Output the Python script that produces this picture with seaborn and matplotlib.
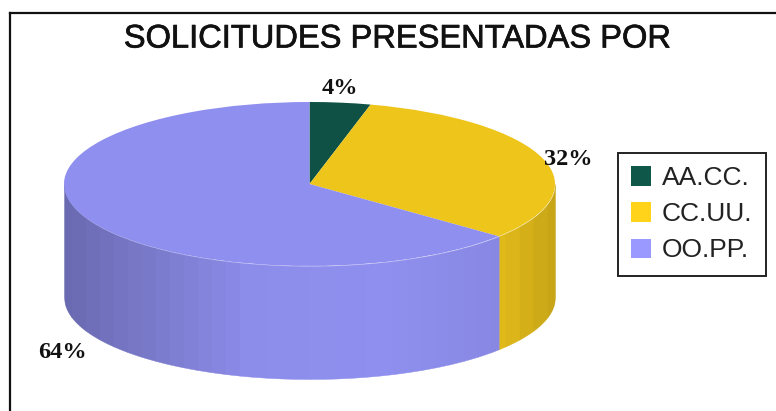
import numpy as np
import matplotlib
matplotlib.use("Agg")
import matplotlib.pyplot as plt
import matplotlib.patheffects as pe
from matplotlib.patches import Patch
import seaborn as sns

# data
categories = ["AA.CC.", "CC.UU.", "OO.PP."]
percents = [4, 32, 64]
top_colors = ["#0F5245", "#EEC51B", "#8F8FEF"]
legend_colors = ["#0F5748", "#FFD31A", "#9999FF"]

W, H = 776, 411
CX, CY = 309.5, 184   # centre of the top ellipse, pixels
RX, RY = 245.5, 82
DEPTH = 113 / RY      # height of the side wall in radius units

sns.set_theme(style="white")
plt.rcParams["font.family"] = ["Liberation Sans", "DejaVu Sans"]


def shade(u):
    # side wall lighting, darker towards both edges
    return np.interp(u, [-1, -0.58, -0.25, 0.3, 0.77, 1], [0.74, 0.87, 0.98, 1.0, 0.95, 0.83])


fig = plt.figure(figsize=(W / 100, H / 100), dpi=100)
left, top = 10, 13
ax = fig.add_axes([left / W, 0, 1 - left / W, 1 - top / H])

wedges, _ = ax.pie(percents, colors=sns.color_palette(top_colors), startangle=90,
                   counterclock=False, radius=1, center=(0, 0), frame=True,
                   wedgeprops={"linewidth": 0, "zorder": 3})

# side wall, stepped bands like the old 3d pie
edges = np.cumsum([0] + percents) / sum(percents) * 2 * np.pi
band = 14 / RX
for i, col in enumerate(top_colors):
    start, end = max(edges[i], np.pi / 2), min(edges[i + 1], 1.5 * np.pi)
    if start >= end:
        continue
    u_hi, u_lo = np.sin(start), np.sin(end)
    cuts = np.arange(np.floor(u_lo / band), np.ceil(u_hi / band) + 1) * band
    cuts = np.clip(cuts, u_lo, u_hi)
    rgb = np.array(matplotlib.colors.to_rgb(col))
    for a, b in zip(cuts[:-1], cuts[1:]):
        if b <= a:
            continue
        u = np.linspace(a, b, 12)
        v = -np.sqrt(np.clip(1 - u ** 2, 0, 1))
        ax.fill_between(u, v, v - DEPTH, color=rgb * shade((a + b) / 2),
                        linewidth=0.3, zorder=2)

ax.set_aspect("auto")
ax.set_xlim((left - CX) / RX, (W - CX) / RX)
ax.set_ylim((CY - H) / RY, (CY - top) / RY)
ax.set_xticks([])
ax.set_yticks([])
for side in ["right", "bottom"]:
    ax.spines[side].set_visible(False)
for side in ["left", "top"]:
    ax.spines[side].set_visible(True)
    ax.spines[side].set_color("#111111")
    ax.spines[side].set_linewidth(1.6)

title = fig.text(397 / W, 1 - 39 / H, "SOLICITUDES PRESENTADAS POR", ha="center", va="center",
                 fontsize=23.5, color="#111111")
title.set_path_effects([pe.withStroke(linewidth=0.5, foreground="#111111")])

label_pos = [(340, 88), (568, 159.5), (62, 352)]
for p, (x, y) in zip(percents, label_pos):
    fig.text(x / W, 1 - y / H, f"{p}%", ha="center", va="center", fontsize=17.5,
             fontweight="bold", family=["Liberation Serif", "DejaVu Serif"], color="#111111")

handles = [Patch(facecolor=c, edgecolor="none") for c in legend_colors]
leg = fig.legend(handles, categories, loc="upper left",
                 bbox_to_anchor=(618 / W, 1 - 153 / H), bbox_transform=fig.transFigure,
                 fontsize=19, frameon=True, fancybox=False, edgecolor="#222222",
                 framealpha=1, borderaxespad=0, handlelength=0.76, handleheight=0.76,
                 handletextpad=0.4, labelspacing=0.46, borderpad=0.5, labelcolor="#222222")
leg.get_frame().set_linewidth(1.4)

fig.savefig("out.png", dpi=100, facecolor="white")
